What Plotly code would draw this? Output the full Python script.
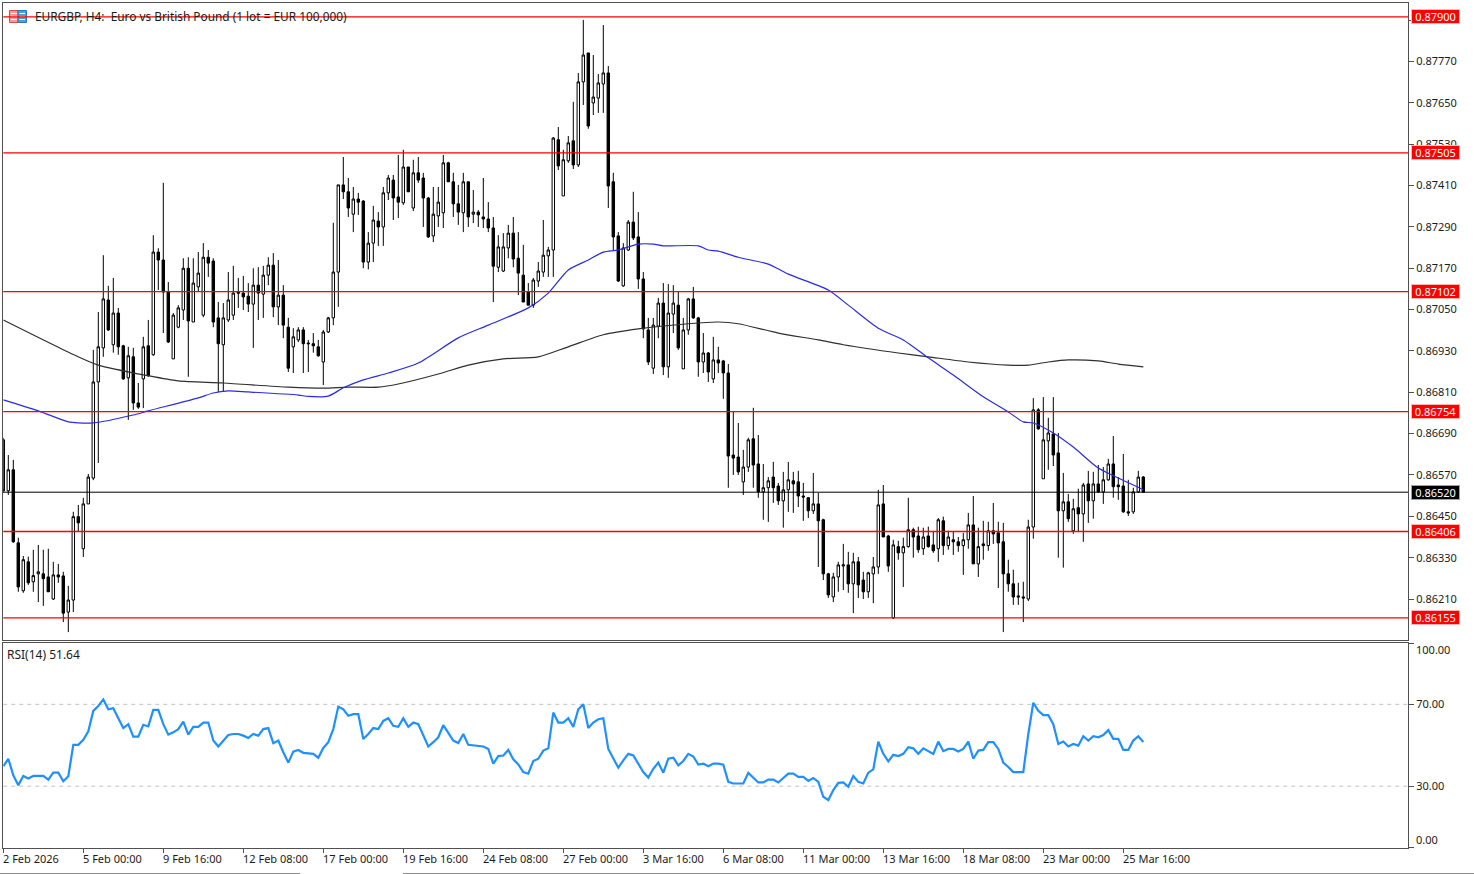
import plotly.graph_objects as go

TITLE = "EURGBP, H4:  Euro vs British Pound (1 lot = EUR 100,000)"
RSI_TITLE = "RSI(14) 51.64"

# Prices in 1e-5 units (pipettes)
OPEN = [86672,86524,86585,86373,86234,86318,86260,86283,86283,86274,86210,86280,86277,86172,86207,86449,86356,86486,86561,86840,
86939,87078,86948,87040,86945,86852,86913,86779,86849,86945,86919,87217,87194,87101,86907,86999,87049,87170,87014,87116,
87034,87202,87191,87026,86948,87020,87034,87101,87098,87089,87066,87121,87095,87150,87179,87058,87092,86999,86942,86962,
86991,86953,86951,86942,86898,86985,87026,87159,87412,87392,87327,87371,87365,87188,87243,87307,87290,87389,87426,87377,
87360,87464,87345,87447,87432,87374,87264,87322,87331,87476,87421,87357,87331,87421,87327,87333,87319,87313,87287,87173,
87162,87229,87272,87199,87150,87101,87063,87133,87159,87206,87223,87543,87380,87482,87540,87470,87711,87795,87650,87664,
87705,87737,87421,87264,87119,87223,87304,87261,87139,86991,86880,87002,87069,86884,87037,87063,86878,86991,87081,87026,
86898,86924,86849,86904,86901,86866,86628,86622,86550,86593,86675,86602,86521,86533,86564,86538,86495,86527,86553,86550,
86509,86504,86466,86486,86440,86283,86216,86274,86306,86309,86254,86318,86265,86231,86283,86303,86486,86393,86155,86362,
86344,86362,86411,86393,86356,86393,86367,86356,86437,86365,86382,86376,86365,86382,86425,86312,86370,86365,86408,86402,
86376,86283,86254,86219,86216,86210,86419,86759,86559,86669,86689,86634,86466,86492,86408,86475,86457,86544,86495,86544,
86521,86556,86602,86541,86538,86463,86463,86521,86564]
HIGH = [86678,86628,86614,86388,86335,86333,86353,86367,86353,86356,86318,86312,86289,86248,86463,86483,86504,86573,86933,87043,
87208,87119,87142,87055,86948,86942,86939,86837,86971,87020,87266,87228,87418,87130,87040,87063,87199,87202,87199,87217,
87243,87223,87199,87072,87069,87159,87177,87142,87148,87127,87170,87173,87177,87202,87214,87194,87121,87026,86996,86999,
86999,86962,86982,86962,86991,87029,87302,87412,87493,87432,87406,87389,87368,87275,87351,87333,87406,87441,87441,87499,
87514,87464,87485,87493,87447,87377,87406,87406,87499,87479,87447,87412,87447,87421,87397,87339,87432,87362,87319,87266,
87272,87296,87319,87275,87238,87127,87142,87188,87310,87232,87551,87580,87514,87554,87653,87737,87891,87795,87789,87734,
87876,87757,87447,87275,87243,87310,87392,87333,87159,87026,87026,87084,87127,87124,87121,87101,87026,87084,87116,87029,
86982,86927,86971,86942,86904,86892,86753,86721,86643,86678,86765,86686,86602,86564,86608,86547,86579,86608,86579,86582,
86547,86506,86576,86518,86443,86286,86286,86318,86370,86347,86344,86332,86289,86289,86332,86527,86541,86396,86382,86379,
86388,86504,86417,86420,86417,86420,86405,86445,86449,86408,86405,86390,86402,86460,86509,86417,86437,86434,86489,86434,
86431,86324,86295,86257,86260,86440,86793,86764,86796,86736,86796,86692,86576,86515,86501,86530,86547,86582,86579,86599,
86593,86617,86683,86564,86631,86556,86533,86582,86567]
LOW = [86518,86512,86373,86231,86228,86251,86231,86201,86190,86231,86207,86257,86143,86114,86172,86405,86332,86486,86555,86605,
86913,86988,86925,86919,86846,86730,86759,86762,86764,86855,86916,87107,86982,86953,86907,86996,87020,86855,87014,87101,
87028,87145,86999,86811,86811,87014,87020,87055,87049,87043,86939,87020,87026,87121,87028,87005,86967,86869,86866,86956,
86866,86869,86925,86913,86831,86982,87005,87058,87371,87319,87275,87325,87170,87167,87188,87235,87235,87368,87310,87316,
87354,87392,87336,87418,87290,87258,87246,87290,87287,87421,87319,87296,87275,87290,87301,87290,87287,87275,87072,87159,
87159,87199,87173,87092,87072,87063,87055,87116,87145,87145,87145,87455,87380,87476,87458,87464,87644,87575,87615,87621,
87621,87345,87223,87130,87116,87220,87252,87110,86967,86889,86863,86967,86860,86852,86982,86933,86878,86977,87023,86855,
86866,86840,86837,86866,86791,86533,86570,86570,86512,86579,86533,86504,86440,86434,86489,86483,86417,86463,86460,86477,
86437,86445,86457,86303,86265,86213,86201,86231,86236,86228,86169,86213,86210,86213,86198,86283,86390,86289,86152,86324,
86245,86359,86330,86344,86338,86359,86344,86318,86338,86353,86338,86347,86280,86356,86312,86274,86324,86350,86370,86242,
86114,86231,86193,86193,86143,86204,86385,86701,86559,86585,86596,86330,86301,86434,86399,86405,86376,86431,86443,86518,
86486,86553,86504,86498,86460,86451,86457,86518,86518]
CLOSE = [86524,86585,86376,86245,86324,86257,86278,86289,86269,86231,86280,86274,86169,86207,86449,86431,86486,86564,86840,86942,
87081,86991,87040,86942,86849,86916,86779,86767,86942,86858,87217,87194,87101,86956,87034,87055,87170,87017,87127,87156,
87202,87185,87014,86951,87026,87078,87098,87098,87087,87066,87121,87098,87150,87179,87058,87092,87005,86880,86971,86991,
86951,86951,86945,86916,86985,87026,87159,87412,87392,87345,87371,87362,87188,87243,87310,87290,87389,87432,87374,87362,
87464,87392,87447,87426,87374,87261,87327,87362,87476,87421,87357,87333,87421,87319,87333,87325,87313,87287,87176,87232,
87232,87272,87197,87156,87072,87063,87136,87162,87208,87223,87548,87467,87485,87534,87470,87711,87789,87583,87667,87708,
87737,87409,87261,87133,87229,87304,87258,87139,86994,86898,87005,87069,86884,87040,87069,86939,86991,87081,87026,86898,
86924,86869,86904,86895,86866,86625,86619,86579,86593,86672,86599,86521,86533,86553,86533,86495,86527,86556,86544,86509,
86506,86466,86486,86437,86283,86222,86274,86309,86309,86254,86318,86251,86231,86286,86303,86483,86390,86306,86367,86344,
86362,86411,86390,86353,86390,86362,86350,86440,86365,86390,86376,86365,86382,86425,86312,86362,86365,86408,86399,86373,
86283,86254,86216,86216,86213,86419,86759,86704,86672,86692,86628,86466,86492,86443,86472,86457,86541,86495,86544,86521,
86556,86602,86536,86536,86463,86460,86521,86564,86520]

MA_BLUE_BAR = [0,7,13,15,18,26,29,39,42,45,49,59,61,65,68,72,77,83,91,97,105,109,113,117,120,123,127,130,132,139,141,143,147,153,157,165,169,175,180,185,190,196,201,204,206,210,214,219,223,228]
MA_BLUE = [86788,86756,86724,86721,86721,86744,86756,86794,86808,86814,86811,86802,86798,86799,86823,86846,86866,86895,86968,87005,87055,87098,87165,87194,87217,87223,87240,87240,87235,87235,87223,87220,87202,87182,87153,87107,87063,86996,86962,86910,86860,86797,86753,86724,86721,86692,86651,86590,86561,86527]
MA_BLACK_BAR = [0,15,19,29,35,44,57,64,69,75,79,87,93,100,107,113,120,127,137,143,147,155,163,168,179,185,193,201,205,209,213,219,223,228]
MA_BLACK = [87020,86913,86889,86858,86843,86837,86825,86822,86825,86825,86834,86863,86889,86907,86913,86942,86977,86994,87009,87014,87009,86982,86962,86948,86924,86913,86898,86889,86889,86898,86904,86901,86892,86884]

RSI = [39.7,43.4,35.3,30.5,35.0,33.7,35.0,35.0,35.0,33.2,36.6,36.6,32.4,34.8,50.2,50.2,52.7,56.8,66.8,69.2,
72.4,67.6,68.1,63.2,58.4,60.3,54.2,54.2,60.0,59.2,67.3,67.3,60.3,55.2,56.3,57.9,61.6,55.2,59.0,59.0,
61.1,61.1,52.3,49.4,52.3,55.0,55.5,55.5,54.7,53.6,55.5,54.7,57.9,58.4,51.0,52.3,46.6,41.5,46.9,47.7,
46.3,46.1,45.8,43.9,48.7,51.5,57.9,68.9,67.6,64.4,65.2,65.2,53.1,55.5,58.4,57.9,61.9,63.2,59.5,59.0,
63.2,59.0,61.1,60.3,54.7,49.4,51.5,53.9,59.8,56.3,52.3,51.1,55.5,50.2,50.0,49.8,49.4,48.2,41.0,44.7,
45.0,47.7,43.1,40.6,36.9,36.1,42.3,43.4,47.4,48.5,66.0,61.1,61.1,63.2,59.0,67.6,70.0,58.4,61.1,62.7,
63.2,48.2,43.4,39.0,42.6,45.8,45.0,41.0,36.9,34.2,38.5,41.5,36.6,43.4,43.9,40.2,42.3,45.8,44.5,40.6,
41.0,39.7,41.0,41.0,40.5,32.1,31.3,31.3,31.3,36.5,34.2,31.8,31.8,33.2,33.2,31.8,34.0,36.1,36.1,34.5,
34.5,32.6,34.0,32.1,24.8,23.2,28.1,31.6,31.8,29.7,35.0,32.1,31.3,36.6,38.2,51.8,45.8,42.1,45.3,44.7,
45.8,49.0,48.5,45.8,48.5,47.1,45.8,51.8,47.1,48.2,48.2,46.9,48.2,51.8,43.4,47.4,47.7,51.5,51.5,48.2,
41.5,39.4,36.9,36.9,36.9,55.5,70.8,66.8,64.7,64.7,60.3,50.6,51.8,49.4,50.6,49.8,54.4,52.3,54.4,53.9,
55.0,57.4,53.1,53.1,47.7,47.7,52.3,54.4,51.64]

RED_LEVELS = [0.87900, 0.87505, 0.87102, 0.86754, 0.86406, 0.86155]
LAST_PRICE = 0.86520
RSI_LEVELS = [70, 30]
PRICE_TICKS = [0.87890,0.87770,0.87650,0.87530,0.87410,0.87290,0.87170,0.87050,0.86930,0.86810,0.86690,0.86570,0.86450,0.86330,0.86210]
TIME_LABELS = ["2 Feb 2026","5 Feb 00:00","9 Feb 16:00","12 Feb 08:00","17 Feb 00:00","19 Feb 16:00","24 Feb 08:00",
               "27 Feb 00:00","3 Mar 16:00","6 Mar 08:00","11 Mar 00:00","13 Mar 16:00","18 Mar 08:00","23 Mar 00:00","25 Mar 16:00"]
LABEL_EVERY = 16

W, H = 1474, 874
FONT = "Noto Sans"
TXT = "#1a1a1a"
EDGE = "#505050"
px = lambda v: v / W
py = lambda v: 1 - v / H
pr = lambda a: [v / 1e5 for v in a]

bars = list(range(len(OPEN)))
fig = go.Figure()
fig.add_trace(go.Candlestick(
    x=bars, open=pr(OPEN), high=pr(HIGH), low=pr(LOW), close=pr(CLOSE),
    increasing=dict(line=dict(color="#000000", width=1), fillcolor="#ffffff"),
    decreasing=dict(line=dict(color="#000000", width=1), fillcolor="#000000"),
    whiskerwidth=0, hoverinfo="skip", showlegend=False, xaxis="x", yaxis="y"))
fig.add_trace(go.Scatter(x=MA_BLACK_BAR, y=pr(MA_BLACK), mode="lines",
                         line=dict(color="#2f2f2f", width=1.2, shape="spline", smoothing=0.7),
                         hoverinfo="skip", showlegend=False, xaxis="x", yaxis="y"))
fig.add_trace(go.Scatter(x=MA_BLUE_BAR, y=pr(MA_BLUE), mode="lines",
                         line=dict(color="#2a2ae6", width=1.2, shape="spline", smoothing=0.7),
                         hoverinfo="skip", showlegend=False, xaxis="x", yaxis="y"))
fig.add_trace(go.Scatter(x=bars, y=RSI, mode="lines", line=dict(color="#1e90ff", width=2.2),
                         hoverinfo="skip", showlegend=False, xaxis="x2", yaxis="y2"))

shapes = []
for lv in RED_LEVELS:
    shapes.append(dict(type="line", xref="x domain", x0=0, x1=1, yref="y", y0=lv, y1=lv,
                       line=dict(color="#ff0000", width=1.3), layer="above"))
shapes.append(dict(type="line", xref="x domain", x0=0, x1=1, yref="y", y0=LAST_PRICE, y1=LAST_PRICE,
                   line=dict(color="#000000", width=1), layer="above"))
for lv in RSI_LEVELS:
    shapes.append(dict(type="line", xref="x2 domain", x0=0, x1=1, yref="y2", y0=lv, y1=lv,
                       line=dict(color="#c4c4c4", width=1, dash="4px,4px"), layer="below"))
# window strip at the bottom
for a, b in [(0, 300), (403, 1474)]:
    shapes.append(dict(type="line", xref="paper", yref="paper", x0=px(a), x1=px(b), y0=py(873.5), y1=py(873.5),
                       line=dict(color="#8c8c8c", width=1)))
# small title icon
for a, b, c in [(9.5, 18, "#f29a9a"), (18, 26.5, "#4f9fd8")]:
    shapes.append(dict(type="rect", xref="paper", yref="paper", x0=px(a), x1=px(b), y0=py(22.5), y1=py(10.5),
                       fillcolor=c, line=dict(color="#d05050" if a < 10 else "#2b78b8", width=1), layer="below"))
for yy in (13.5, 16.5, 19.5):
    for a, b in [(11, 17), (19.5, 25)]:
        shapes.append(dict(type="line", xref="paper", yref="paper", x0=px(a), x1=px(b), y0=py(yy), y1=py(yy),
                           line=dict(color="#ffffff", width=1), layer="below"))

ann = [
    dict(xref="paper", yref="paper", x=px(32.5), y=py(16.5), text=TITLE, showarrow=False, xanchor="left", yanchor="middle",
         font=dict(family=FONT, size=11.85, color=TXT)),
    dict(xref="paper", yref="paper", x=px(5), y=py(654), text=RSI_TITLE, showarrow=False, xanchor="left", yanchor="middle",
         font=dict(family=FONT, size=12, color=TXT)),
]
def price_box(v, bg, edge):
    return dict(xref="paper", yref="y", x=px(1411), y=v, text=f"{v:.5f}", showarrow=False, xanchor="left", yanchor="middle",
                width=47, height=13, bgcolor=bg, bordercolor=edge, borderwidth=1, borderpad=0, align="center",
                font=dict(family=FONT, size=11, color="#ffffff"))
for lv in RED_LEVELS:
    ann.append(price_box(lv, "#ff0000", "#ffb4b4"))
ann.append(price_box(LAST_PRICE, "#000000", "#a0a0a0"))
ann.append(dict(xref="paper", yref="y2", x=px(1414), y=100, yshift=-6, text="100.00", showarrow=False, xanchor="left", yanchor="middle",
                font=dict(family=FONT, size=11, color=TXT)))
ann.append(dict(xref="paper", yref="y2", x=px(1414), y=0, yshift=8, text="0.00", showarrow=False, xanchor="left", yanchor="middle",
                font=dict(family=FONT, size=11, color=TXT)))
time_ticks = [i * LABEL_EVERY for i in range(len(TIME_LABELS))]
for t, lab in zip(time_ticks, TIME_LABELS):
    ann.append(dict(xref="x2", yref="paper", x=t, y=py(858.5), text=lab, showarrow=False, xanchor="left", yanchor="middle",
                    xshift=-2, font=dict(family=FONT, size=11, color=TXT)))

XR = [0, 280.94]
ax_common = dict(showgrid=False, zeroline=False, showline=True, linecolor=EDGE, linewidth=1, mirror=True)
fig.update_layout(
    width=W, height=H, autosize=False, margin=dict(l=0, r=0, t=0, b=0),
    paper_bgcolor="#ffffff", plot_bgcolor="#ffffff", showlegend=False, hovermode=False,
    xaxis=dict(domain=[px(3.3), px(1408)], range=XR, anchor="y", showticklabels=False, ticks="",
               rangeslider=dict(visible=False), **ax_common),
    yaxis=dict(domain=[py(640), py(3)], range=[0.86091, 0.87940], side="right", anchor="x",
               tickmode="array", tickvals=PRICE_TICKS, ticktext=[f"{v:.5f}" for v in PRICE_TICKS],
               ticks="outside", ticklen=5, tickcolor=EDGE, tickfont=dict(family=FONT, size=11, color=TXT), **ax_common),
    xaxis2=dict(domain=[px(3.3), px(1408)], range=XR, anchor="y2", showticklabels=False,
                tickmode="array", tickvals=time_ticks, ticks="outside", ticklen=4, tickcolor=EDGE, **ax_common),
    yaxis2=dict(domain=[py(847.5), py(643)], range=[0, 100], side="right", anchor="x2",
                tickmode="array", tickvals=[100, 70, 30, 0], ticktext=["", "70.00", "30.00", ""],
                ticks="outside", ticklen=5, tickcolor=EDGE, tickfont=dict(family=FONT, size=11, color=TXT), **ax_common),
    shapes=shapes, annotations=ann,
)
fig.write_html("out.html", config={"displayModeBar": False},
               post_script="document.body.style.margin='0';document.body.style.overflow='hidden';")
